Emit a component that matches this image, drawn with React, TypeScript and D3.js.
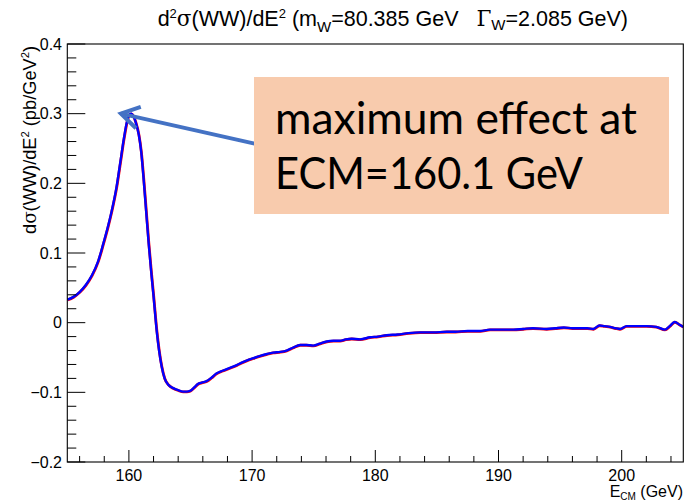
import React from 'react';
import * as d3 from 'd3';

// E_CM (GeV)
const energy = [
  155.0, 155.5, 156.0, 156.5, 157.0, 157.5, 157.9, 158.3, 158.6, 159.0,
  159.3, 159.6, 159.85, 160.05, 160.2, 160.35, 160.55, 160.8, 161.0, 161.2,
  161.4, 161.6, 161.8, 162.0, 162.26, 162.45, 162.66, 162.9, 163.2, 163.6,
  164.0, 164.4, 164.7, 164.96, 165.3, 165.6, 165.9, 166.3, 166.7, 167.1,
  167.6, 168.2, 168.75, 169.2, 169.6, 170.1, 170.6, 171.2, 171.7, 172.3,
  172.8, 173.3, 173.9, 174.4, 174.97, 175.5, 176.05, 176.6, 177.13, 177.6,
  178.08, 178.76, 179.57, 180.2, 180.93, 181.8, 182.7, 183.63, 184.7, 185.8,
  186.5, 187.5, 188.5, 189.3, 190.2, 191.2, 192.0, 192.8, 193.9, 194.6,
  195.3, 196.0, 196.6, 197.2, 197.7, 198.2, 198.6, 199.05, 199.5, 199.86,
  200.4, 201.2, 202.0, 202.8, 203.5, 203.9, 204.3, 204.7, 205.0,
];
// d sigma(WW)/dE^2 (pb/GeV^2)
const dsigma = [
  0.033, 0.037, 0.044, 0.054, 0.068, 0.088, 0.112, 0.138, 0.160, 0.195,
  0.230, 0.265, 0.289, 0.299, 0.300, 0.297, 0.288, 0.270, 0.245, 0.205,
  0.160, 0.115, 0.075, 0.038, -0.012, -0.040, -0.063, -0.080, -0.089, -0.094,
  -0.097, -0.099, -0.099, -0.098, -0.093, -0.088, -0.086, -0.084, -0.079, -0.073,
  -0.069, -0.065, -0.061, -0.057, -0.054, -0.051, -0.048, -0.045, -0.043, -0.042,
  -0.040, -0.036, -0.032, -0.032, -0.033, -0.030, -0.027, -0.026, -0.026, -0.024,
  -0.023, -0.024, -0.021, -0.020, -0.018, -0.017, -0.015, -0.014, -0.014, -0.013,
  -0.013, -0.012, -0.012, -0.010, -0.010, -0.010, -0.009, -0.008, -0.009, -0.008,
  -0.007, -0.008, -0.008, -0.008, -0.009, -0.004, -0.005, -0.006, -0.008, -0.009,
  -0.005, -0.005, -0.005, -0.006, -0.010, -0.005, 0.001, -0.003, -0.006,
];

const xDomain = [155, 205];
const yDomain = [-0.2, 0.4];
const xTickValues = [160, 170, 180, 190, 200];
const xTickLabels = ['160', '170', '180', '190', '200'];
const xMinorStep = 2;
const yTickValues = [-0.2, -0.1, 0, 0.1, 0.2, 0.3, 0.4];
const yTickLabels = ['\u22120.2', '\u22120.1', '0', '0.1', '0.2', '0.3', '0.4'];
const yMinorStep = 0.02;
const annotationLines = ['maximum effect at', 'ECM=160.1 GeV'];
const arrowTip = [159.35, 0.300];
const arrowTail = [170.2, 0.257];

export default function App() {
  const L = 67.3, R = 683.3, T = 44, B = 462;
  const x = d3.scaleLinear().domain(xDomain).range([L, R]);
  const y = d3.scaleLinear().domain(yDomain).range([B, T]);
  const pts: [number, number][] = energy.map((e, i) => [e, dsigma[i]]);
  const line = d3.line<[number, number]>()
    .x(d => x(d[0]))
    .y(d => y(d[1]))
    .curve(d3.curveMonotoneX);
  const path = line(pts) || '';

  const xMinor = d3.range(xDomain[0] + 1, xDomain[1] + 0.001, xMinorStep)
    .filter(v => !xTickValues.some(t => Math.abs(t - v) < 1e-6));
  const yMinor = d3.range(yDomain[0], yDomain[1] + 1e-6, yMinorStep)
    .filter(v => !yTickValues.some(t => Math.abs(t - v) < 1e-6));

  const tip = [x(arrowTip[0]), y(arrowTip[1])];
  const tail = [x(arrowTail[0]), y(arrowTail[1])];
  const ang = Math.atan2(tail[1] - tip[1], tail[0] - tip[0]);
  const hl = 21, ha = 0.55;
  const h1 = [tip[0] + hl * Math.cos(ang - ha), tip[1] + hl * Math.sin(ang - ha)];
  const h2 = [tip[0] + hl * Math.cos(ang + ha), tip[1] + hl * Math.sin(ang + ha)];

  const font = '"Liberation Sans", Arial, Helvetica, sans-serif';
  const symFont = '"DejaVu Serif", "Liberation Serif", serif';

  return (
    <svg width={692} height={502} style={{ position: 'absolute', left: 0, top: 0, background: '#fff' }}>
      <rect x={0} y={0} width={692} height={502} fill="#fff" />
      {/* Title */}
      <text x={628} y={26} textAnchor="end" fontFamily={font} fontSize={21.5} fill="#000" xmlSpace="preserve">
        <tspan>d</tspan>
        <tspan fontSize={13} dy={-8}>2</tspan>
        <tspan dy={8} fontFamily={symFont}>σ</tspan>
        <tspan>(WW)/dE</tspan>
        <tspan fontSize={13} dy={-8}>2</tspan>
        <tspan dy={8}> (m</tspan>
        <tspan fontSize={15} dy={6}>W</tspan>
        <tspan dy={-6}>=80.385 GeV{'\u00a0\u00a0\u00a0'}</tspan>
        <tspan fontFamily={symFont}>Γ</tspan>
        <tspan fontSize={15} dy={4}>W</tspan>
        <tspan dy={-4}>=2.085 GeV)</tspan>
      </text>

      {/* curves */}
      <defs>
        <clipPath id="clip"><rect x={L} y={T} width={R - L} height={B - T} /></clipPath>
      </defs>
      <g clipPath="url(#clip)">
        <path d={path} fill="none" stroke="#ff0000" strokeWidth={2.8} transform="translate(0.2,0.3)" />
        <path d={path} fill="none" stroke="#0000ff" strokeWidth={2.4} />
      </g>

      {/* frame */}
      <rect x={L} y={T} width={R - L} height={B - T} fill="none" stroke="#000" strokeWidth={1.1} />

      {/* x ticks */}
      {xTickValues.map((v, i) => (
        <g key={'xt' + i}>
          <line x1={x(v)} x2={x(v)} y1={B} y2={B - 12} stroke="#000" strokeWidth={1} />
          <text x={x(v)} y={481} textAnchor="middle" fontFamily={font} fontSize={16}>{xTickLabels[i]}</text>
        </g>
      ))}
      {xMinor.map((v, i) => (
        <line key={'xm' + i} x1={x(v)} x2={x(v)} y1={B} y2={B - 6} stroke="#000" strokeWidth={1} />
      ))}
      {/* y ticks */}
      {yTickValues.map((v, i) => (
        <g key={'yt' + i}>
          <line x1={L} x2={L + 18} y1={y(v)} y2={y(v)} stroke="#000" strokeWidth={1} />
          <text x={62} y={y(v) + 5.5} textAnchor="end" fontFamily={font} fontSize={16}>{yTickLabels[i]}</text>
        </g>
      ))}
      {yMinor.map((v, i) => (
        <line key={'ym' + i} x1={L} x2={L + 9} y1={y(v)} y2={y(v)} stroke="#000" strokeWidth={1} />
      ))}

      {/* axis titles */}
      <text x={683} y={497} textAnchor="end" fontFamily={font} fontSize={16}>
        <tspan>E</tspan>
        <tspan fontSize={10} dy={3}>CM</tspan>
        <tspan dy={-3}> (GeV)</tspan>
      </text>
      <text transform={`translate(36,${T + 190}) rotate(-90)`} fontFamily={font} fontSize={18}
        textLength={188} lengthAdjust="spacingAndGlyphs">
        <tspan>d</tspan>
        <tspan fontFamily={symFont}>σ</tspan>
        <tspan>(WW)/dE</tspan>
        <tspan fontSize={11} dy={-7}>2</tspan>
        <tspan dy={7}> (pb/GeV</tspan>
        <tspan fontSize={11} dy={-7}>2</tspan>
        <tspan dy={7}>)</tspan>
      </text>

      {/* arrow annotation */}
      <line x1={tail[0]} y1={tail[1]} x2={tip[0]} y2={tip[1]} stroke="#4472C4" strokeWidth={4} />
      <polyline points={`${h1[0]},${h1[1]} ${tip[0]},${tip[1]} ${h2[0]},${h2[1]}`} fill="none" stroke="#4472C4" strokeWidth={4} strokeLinejoin="miter" />

      <rect x={254} y={77} width={415} height={137} fill="#F8CBAD" />
      <text x={275} y={134} fontFamily='Lato, "Open Sans", sans-serif' fontSize={44} fill="#000"
        textLength={362} lengthAdjust="spacingAndGlyphs">{annotationLines[0]}</text>
      <text x={275} y={189} fontFamily='Lato, "Open Sans", sans-serif' fontSize={44} fill="#000"
        textLength={308} lengthAdjust="spacingAndGlyphs">{annotationLines[1]}</text>
    </svg>
  );
}
